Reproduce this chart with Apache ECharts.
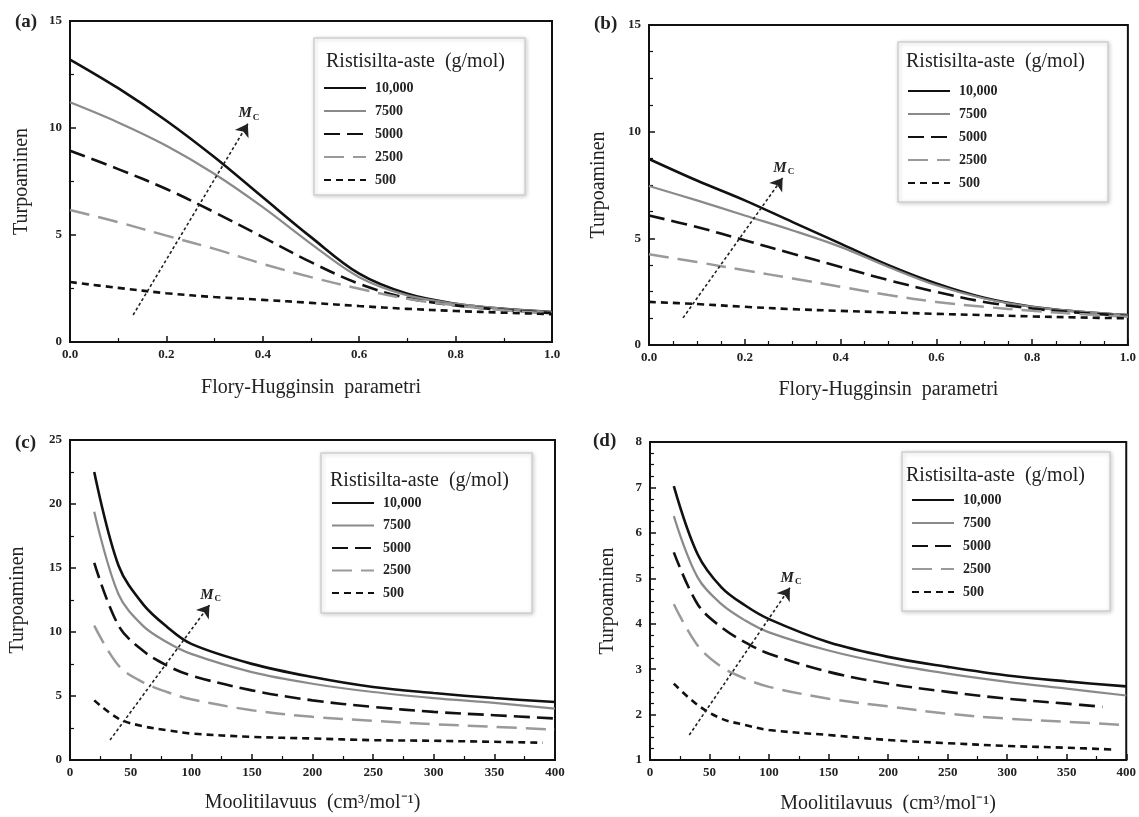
<!DOCTYPE html>
<html>
<head>
<meta charset="utf-8">
<script src="https://cdn.jsdelivr.net/npm/echarts@6.0.0/dist/echarts.min.js"></script>
<style>
  html, body { margin: 0; padding: 0; background: #fff; }
  #chart { width: 1139px; height: 817px; }
</style>
</head>
<body>
<div id="chart"></div>
<script>
const FONT = 'Liberation Serif';

// legend entries (crosslink molar mass, g/mol)
const seriesNames = ['10,000', '7500', '5000', '2500', '500'];

// (a) and (b): Flory-Huggins parameter on x
const xFH = [0, 0.1, 0.2, 0.3, 0.4, 0.5, 0.6, 0.7, 0.8, 0.9, 1.0];
const a10000 = [13.2, 11.86, 10.34, 8.63, 6.76, 4.9, 3.19, 2.25, 1.79, 1.55, 1.4];
const a7500 = [11.2, 10.26, 9.17, 7.85, 6.3, 4.59, 3.03, 2.18, 1.79, 1.55, 1.4];
const a5000 = [8.94, 8.08, 7.15, 6.06, 4.9, 3.73, 2.72, 2.05, 1.71, 1.5, 1.35];
const a2500 = [6.17, 5.6, 4.97, 4.35, 3.65, 3.03, 2.49, 2.02, 1.71, 1.48, 1.32];
const a500 = [2.8, 2.53, 2.28, 2.1, 1.97, 1.83, 1.68, 1.55, 1.45, 1.37, 1.3];

const b10000 = [8.72, 7.71, 6.78, 5.76, 4.75, 3.74, 2.88, 2.21, 1.79, 1.56, 1.4];
const b7500 = [7.45, 6.78, 6.07, 5.37, 4.6, 3.66, 2.8, 2.18, 1.79, 1.56, 1.4];
const b5000 = [6.07, 5.53, 4.91, 4.28, 3.66, 3.04, 2.49, 2.02, 1.71, 1.51, 1.36];
const b2500 = [4.25, 3.89, 3.5, 3.12, 2.73, 2.34, 2.02, 1.79, 1.6, 1.45, 1.32];
const b500 = [2.02, 1.92, 1.79, 1.68, 1.6, 1.53, 1.46, 1.4, 1.34, 1.29, 1.25];

// (c) and (d): molar volume on x
const xMV = [20, 40, 60, 80, 100, 150, 200, 250, 300, 350, 400];
const xMV390 = [20, 40, 60, 80, 100, 150, 200, 250, 300, 350, 390];
const xMV380 = [20, 40, 60, 80, 100, 150, 200, 250, 300, 350, 380];
const c10000 = [22.5, 15.2, 12.2, 10.4, 9.07, 7.51, 6.48, 5.7, 5.23, 4.84, 4.53];
const c7500 = [19.4, 12.95, 10.5, 9.2, 8.29, 6.87, 5.96, 5.31, 4.84, 4.46, 4.02];
const c5000 = [15.4, 10.5, 8.55, 7.38, 6.6, 5.44, 4.66, 4.15, 3.76, 3.5, 3.24];
const c2500 = [10.5, 7.38, 6.09, 5.31, 4.74, 3.89, 3.37, 3.06, 2.8, 2.59, 2.38];
const c500 = [4.66, 3.24, 2.64, 2.33, 2.07, 1.81, 1.68, 1.55, 1.5, 1.42, 1.35];

const d10000 = [7.03, 5.53, 4.8, 4.4, 4.1, 3.59, 3.27, 3.05, 2.86, 2.73, 2.62];
const d7500 = [6.37, 5.02, 4.43, 4.07, 3.81, 3.41, 3.12, 2.9, 2.72, 2.57, 2.42];
const d5000 = [5.57, 4.43, 3.92, 3.59, 3.34, 2.94, 2.68, 2.5, 2.35, 2.24, 2.17];
const d2500 = [4.43, 3.52, 3.05, 2.79, 2.61, 2.35, 2.18, 2.02, 1.91, 1.84, 1.77];
const d500 = [2.68, 2.21, 1.91, 1.77, 1.66, 1.55, 1.44, 1.37, 1.31, 1.27, 1.23];

// M_c arrows: [start, tip] in data units
const arrowA = [[0.131, 1.26], [0.369, 10.2]];
const arrowB = [[0.071, 1.27], [0.279, 7.83]];
const arrowC = [[33, 1.56], [115, 12.1]];
const arrowD = [[33, 1.55], [117.5, 4.79]];

const styles = {
  '10,000': { color: '#111', width: 2.6, type: 'solid' },
  '7500': { color: '#8a8a8a', width: 2.2, type: 'solid' },
  '5000': { color: '#111', width: 2.6, type: [16, 7] },
  '2500': { color: '#9a9a9a', width: 2.5, type: [20, 9] },
  '500': { color: '#111', width: 2.6, type: [7, 5] }
};

const panels = [
  { tag: '(a)', tagPos: [15, 13],
    grid: { left: 70, top: 21, width: 482, height: 321 },
    x: { min: 0, max: 1, interval: 0.2, minor: 2, dec: 1, name: 'Flory-Hugginsin  parametri', gap: 36 },
    y: { min: 0, max: 15, interval: 5, minor: 2, gap: 38 },
    xs: [xFH, xFH, xFH, xFH, xFH], ys: [a10000, a7500, a5000, a2500, a500], arrow: arrowA,
    box: [314, 38, 211, 157], head: [326, 52], leg: [323, 81, 9] },
  { tag: '(b)', tagPos: [594, 15],
    grid: { left: 649, top: 25, width: 481, height: 320 },
    x: { min: 0, max: 1, interval: 0.2, minor: 4, dec: 1, name: 'Flory-Hugginsin  parametri', gap: 35 },
    y: { min: 0, max: 15, interval: 5, minor: 4, gap: 40 },
    xs: [xFH, xFH, xFH, xFH, xFH], ys: [b10000, b7500, b5000, b2500, b500], arrow: arrowB,
    box: [898, 42, 210, 160], head: [906, 52], leg: [907, 84, 9] },
  { tag: '(c)', tagPos: [15, 434],
    grid: { left: 70, top: 440, width: 485, height: 320 },
    x: { min: 0, max: 400, interval: 50, minor: 2, dec: 0, name: 'Moolitilavuus  (cm³/mol⁻¹)', gap: 33 },
    y: { min: 0, max: 25, interval: 5, minor: 2, gap: 42 },
    xs: [xMV, xMV, xMV, xMV, xMV390], ys: [c10000, c7500, c5000, c2500, c500], arrow: arrowC,
    box: [321, 453, 211, 160], head: [330, 471], leg: [331, 496, 8.5] },
  { tag: '(d)', tagPos: [593, 432],
    grid: { left: 650, top: 442, width: 480, height: 318 },
    x: { min: 0, max: 400, interval: 50, minor: 2, dec: 0, name: 'Moolitilavuus  (cm³/mol⁻¹)', gap: 34 },
    y: { min: 1, max: 8, interval: 1, minor: 4, gap: 32 },
    xs: [xMV, xMV, xMV380, xMV, xMV390], ys: [d10000, d7500, d5000, d2500, d500], arrow: arrowD,
    box: [902, 452, 208, 159], head: [906, 466], leg: [911, 493, 9] }
];

const tickLabel = { fontFamily: FONT, fontWeight: 'bold', fontSize: 13, color: '#222' };
const axisName = { fontFamily: FONT, fontSize: 20, color: '#222' };

const option = {
  backgroundColor: '#fff',
  animation: false,
  grid: [], xAxis: [], yAxis: [], series: [], legend: [], title: [], graphic: []
};

panels.forEach((p, gi) => {
  option.grid.push(Object.assign({ show: true, borderColor: '#111', borderWidth: 2, backgroundColor: 'transparent' }, p.grid));
  option.xAxis.push({
    type: 'value', gridIndex: gi, min: p.x.min, max: p.x.max, interval: p.x.interval,
    name: p.x.name, nameLocation: 'middle', nameGap: p.x.gap, nameTextStyle: axisName,
    axisLine: { lineStyle: { color: '#111', width: 2 } },
    axisTick: { inside: true, length: 6, lineStyle: { color: '#111', width: 1.5 } },
    minorTick: { show: true, splitNumber: p.x.minor, length: 4, lineStyle: { color: '#111', width: 1.2 } },
    splitLine: { show: false },
    axisLabel: Object.assign({ margin: 6, formatter: v => v.toFixed(p.x.dec) }, tickLabel)
  });
  option.yAxis.push({
    type: 'value', gridIndex: gi, min: p.y.min, max: p.y.max, interval: p.y.interval,
    name: 'Turpoaminen', nameLocation: 'middle', nameGap: p.y.gap, nameTextStyle: axisName,
    axisLine: { lineStyle: { color: '#111', width: 2 } },
    axisTick: { inside: true, length: 6, lineStyle: { color: '#111', width: 1.5 } },
    minorTick: { show: true, splitNumber: p.y.minor, length: 4, lineStyle: { color: '#111', width: 1.2 } },
    splitLine: { show: false },
    axisLabel: Object.assign({ margin: 8 }, tickLabel)
  });
  seriesNames.forEach((name, si) => {
    const st = styles[name];
    option.series.push({
      name, type: 'line', xAxisIndex: gi, yAxisIndex: gi,
      data: p.xs[si].map((x, i) => [x, p.ys[si][i]]),
      smooth: 0.35, symbol: 'none', color: st.color,
      lineStyle: { color: st.color, width: st.width, type: st.type }
    });
  });
  // M_c arrow
  option.series.push({
    name: 'Mc' + gi, type: 'line', xAxisIndex: gi, yAxisIndex: gi,
    data: p.arrow, symbol: 'none', color: '#222', lineStyle: { width: 0, color: 'rgba(0,0,0,0)' }, silent: true,
    markLine: {
      silent: true, animation: false, symbol: ['none', 'arrow'], symbolSize: 12,
      itemStyle: { color: '#222' },
      lineStyle: { color: '#222', width: 1.6, type: [3, 2.5], opacity: 1 },
      label: {
        show: true, position: 'end', distance: 2,
        formatter: '{m|M}{s|C}',
        rich: {
          m: { fontFamily: FONT, fontStyle: 'italic', fontWeight: 'bold', fontSize: 15, color: '#222' },
          s: { fontFamily: FONT, fontWeight: 'bold', fontSize: 9, color: '#222', padding: [8, 0, 0, 1] }
        }
      },
      data: [[{ coord: p.arrow[0] }, { coord: p.arrow[1] }]]
    }
  });
  option.legend.push({
    data: seriesNames, orient: 'vertical', left: p.leg[0], top: p.leg[1], padding: 0,
    itemWidth: 42, itemHeight: 14, itemGap: p.leg[2], selectedMode: false,
    itemStyle: { opacity: 0, borderWidth: 0 },
    textStyle: { fontFamily: FONT, fontWeight: 'bold', fontSize: 14, color: '#222', lineHeight: 14, padding: [0, 0, 0, 4] }
  });
  option.title.push({
    text: 'Ristisilta-aste  (g/mol)', left: p.head[0], top: p.head[1], padding: 0,
    textStyle: { fontFamily: FONT, fontWeight: 'normal', fontSize: 20, color: '#222' }
  });
  option.title.push({
    text: p.tag, left: p.tagPos[0], top: p.tagPos[1], padding: 0,
    textStyle: { fontFamily: FONT, fontWeight: 'bold', fontSize: 19, color: '#222' }
  });
  option.graphic.push({
    type: 'rect', z: -1, silent: true,
    shape: { x: p.box[0], y: p.box[1], width: p.box[2], height: p.box[3] },
    style: { fill: '#fff', stroke: '#cfcfcf', lineWidth: 1.5, shadowBlur: 4, shadowOffsetX: 1, shadowOffsetY: 1, shadowColor: 'rgba(0,0,0,0.18)' }
  });
});

const chart = echarts.init(document.getElementById('chart'), null, { renderer: 'canvas' });
chart.setOption(option);
</script>
</body>
</html>
